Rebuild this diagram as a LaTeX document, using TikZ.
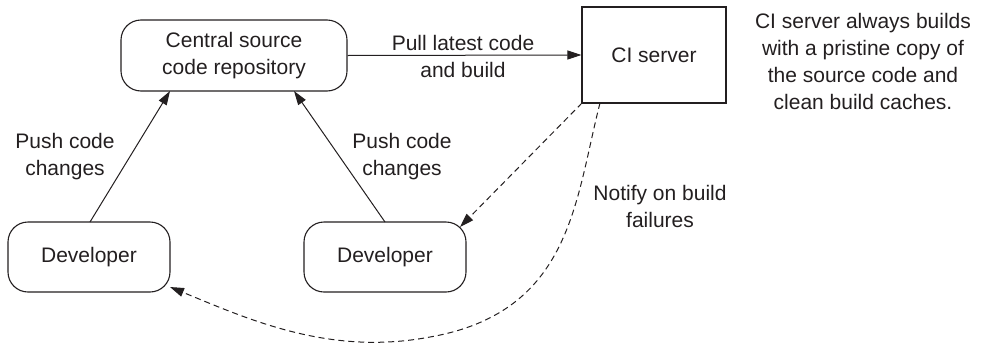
\documentclass[tikz,border=0pt]{standalone}
\usepackage{fontspec}
\setmainfont{Liberation Sans}
\usetikzlibrary{arrows.meta}
\definecolor{ink}{HTML}{231F20}
\begin{document}
\begin{tikzpicture}[x=1pt,y=-1pt,
  every node/.style={font=\fontsize{21}{27}\selectfont, text=ink, align=center},
  rbox/.style={draw=ink, line width=1.1pt, rounded corners=20pt, inner sep=0pt},
  sbox/.style={draw=ink, line width=1.1pt, inner sep=0pt},
  lbl/.style={inner sep=0pt},
  conn/.style={draw=ink, line width=1pt, -{Triangle[length=14pt,width=9pt]}},
  dconn/.style={conn, dash pattern=on 6pt off 4pt}]
\useasboundingbox (0,0) rectangle (981,343);
\node[rbox, minimum width=226pt, minimum height=71pt] (repo) at (234,55.5) {Central source\\code repository};
\node[sbox, minimum width=144pt, minimum height=96pt] (ci) at (654,55) {CI server};
\node[rbox, minimum width=162pt, minimum height=70pt] (dev1) at (89,257) {Developer};
\node[rbox, minimum width=162pt, minimum height=70pt] (dev2) at (385,257) {Developer};
\node[lbl] (note) at (863,61) {CI server always builds\\with a pristine copy of\\the source code and\\clean build caches.};
\node[lbl] (pull) at (463,56) {Pull latest code\\and build};
\node[lbl] (push1) at (65,157) {Push code\\changes};
\node[lbl] (push2) at (402,157) {Push code\\changes};
\node[lbl] (notify) at (660,206) {Notify on build\\failures};
\coordinate (d1top) at (90,222);
\coordinate (r1) at (170,91);
\coordinate (d2top) at (385,222);
\coordinate (r2) at (294,91);
\coordinate (cibl) at (582,103);
\coordinate (d2tr) at (460,227);
\coordinate (cib) at (600,103);
\coordinate (mid) at (430,337);
\coordinate (d1br) at (170,287);
\draw[conn] (repo.east) -- (ci.west);
\draw[conn] (d1top) -- (r1);
\draw[conn] (d2top) -- (r2);
\draw[dconn] (cibl) -- (d2tr);
\draw[dconn] (cib) .. controls (575,200) and (572,312) .. (mid) .. controls (330,356) and (250,320) .. (d1br);
\end{tikzpicture}
\end{document}
